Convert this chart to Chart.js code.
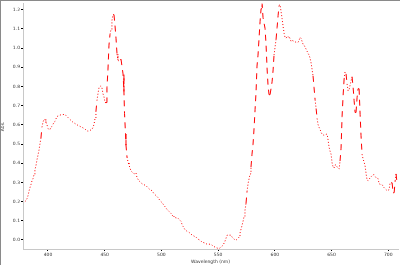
<!DOCTYPE html>
<html>
<head>
<meta charset="utf-8">
<script src="https://cdn.jsdelivr.net/npm/chart.js@4/dist/chart.umd.min.js"></script>
<style>
  body { margin: 0; background: #fff; }
  canvas { display: block; }
</style>
</head>
<body>
<canvas id="myChart" width="400" height="265"></canvas>
<script>
// spectrum data

const wavelength = [
  379.7, 380.6, 381.5, 382.4, 383.2, 384.1, 385.0, 385.9, 386.8, 387.7,
  388.5, 389.4, 390.3, 391.2, 392.1, 392.9, 393.8, 394.7, 395.6, 396.5,
  397.4, 398.2, 399.1, 400.0, 400.9, 401.8, 402.6, 403.5, 404.4, 405.3,
  406.2, 407.9, 410.6, 414.1, 415.9, 418.5, 420.3, 422.1, 423.8, 426.5,
  428.2, 430.0, 431.8, 435.3, 438.8, 439.7, 440.6, 441.5, 442.3, 443.2,
  444.1, 445.0, 446.7, 447.6, 448.5, 449.4, 450.3, 451.2, 452.0, 452.9,
  453.8, 454.7, 455.6, 456.4, 457.3, 458.2, 459.1, 460.0, 460.9, 461.7,
  462.6, 464.4, 466.2, 467.0, 467.5, 468.4, 468.8, 469.7, 470.6, 471.4,
  472.3, 473.2, 475.9, 477.6, 478.5, 480.3, 482.9, 486.4, 488.2, 490.0,
  491.7, 493.5, 495.3, 497.0, 498.8, 500.5, 505.0, 506.7, 508.5, 510.3,
  511.1, 514.7, 517.3, 518.2, 519.1, 520.8, 522.6, 524.4, 526.1, 528.8,
  530.5, 532.3, 534.1, 535.8, 538.5, 540.2, 542.0, 543.8, 545.5, 547.3,
  549.1, 550.8, 552.6, 554.4, 556.1, 557.0, 557.9, 561.4, 562.3, 564.1,
  565.8, 567.6, 568.5, 569.3, 570.2, 571.1, 572.0, 572.9, 573.7, 574.6,
  575.5, 576.4, 577.3, 578.2, 579.0, 579.9, 580.8, 581.7, 582.6, 583.5,
  584.3, 585.2, 586.1, 587.0, 587.9, 588.7, 589.6, 591.4, 592.3, 593.2,
  594.0, 594.9, 595.8, 597.6, 598.5, 599.3, 600.2, 601.1, 602.0, 602.9,
  603.7, 604.6, 605.5, 606.4, 607.3, 608.2, 609.0, 609.9, 610.8, 611.7,
  612.6, 614.3, 615.2, 617.0, 618.7, 620.5, 621.4, 622.3, 623.1, 624.0,
  624.9, 625.8, 626.7, 627.6, 628.4, 629.3, 630.2, 631.1, 632.0, 632.8,
  633.7, 634.6, 635.5, 636.4, 637.3, 638.1, 639.0, 639.9, 640.8, 641.7,
  643.4, 645.2, 646.1, 647.0, 647.8, 648.7, 649.6, 650.5, 651.4, 652.2,
  653.1, 654.0, 654.9, 656.7, 657.5, 658.4, 659.3, 660.2, 661.1, 661.9,
  662.8, 663.7, 664.6, 665.5, 666.4, 668.1, 669.0, 669.9, 670.8, 671.6,
  672.5, 673.4, 674.3, 675.2, 676.0, 676.9, 677.8, 678.7, 679.6, 680.5,
  681.3, 682.2, 684.0, 686.6, 687.5, 689.3, 691.1, 691.9, 693.7, 694.6,
  696.4, 697.2, 699.0, 700.8, 701.6, 703.4, 704.3, 705.2, 706.1, 706.9,
  707.8
];

const absorbance = [
  0.200, 0.205, 0.215, 0.231, 0.252, 0.272, 0.288, 0.308, 0.319, 0.340,
  0.366, 0.386, 0.417, 0.442, 0.468, 0.499, 0.530, 0.587, 0.613, 0.628,
  0.628, 0.613, 0.602, 0.581, 0.576, 0.576, 0.587, 0.592, 0.602, 0.613,
  0.618, 0.643, 0.651, 0.654, 0.649, 0.633, 0.623, 0.613, 0.607, 0.597,
  0.592, 0.587, 0.581, 0.566, 0.576, 0.587, 0.602, 0.633, 0.669, 0.726,
  0.762, 0.793, 0.803, 0.793, 0.762, 0.746, 0.716, 0.716, 0.793, 0.886,
  1.015, 1.071, 1.097, 1.143, 1.174, 1.174, 1.118, 1.051, 0.968, 0.937,
  0.932, 0.942, 0.865, 0.772, 0.659, 0.551, 0.494, 0.432, 0.406, 0.391,
  0.375, 0.360, 0.344, 0.350, 0.324, 0.308, 0.293, 0.283, 0.272, 0.262,
  0.257, 0.241, 0.231, 0.221, 0.205, 0.195, 0.159, 0.149, 0.138, 0.123,
  0.118, 0.113, 0.097, 0.081, 0.071, 0.054, 0.045, 0.040, 0.030, 0.020,
  0.015, 0.004, -0.001, -0.011, -0.016, -0.022, -0.022, -0.022, -0.032, -0.037,
  -0.042, -0.045, -0.037, -0.027, -0.006, 0.009, 0.025, 0.025, 0.015, 0.004,
  -0.001, 0.009, 0.015, 0.035, 0.056, 0.076, 0.097, 0.123, 0.154, 0.190,
  0.252, 0.293, 0.319, 0.344, 0.380, 0.447, 0.499, 0.581, 0.679, 0.777,
  0.906, 0.963, 1.051, 1.138, 1.205, 1.240, 1.159, 1.102, 1.015, 0.891,
  0.808, 0.757, 0.757, 0.824, 0.886, 0.963, 1.004, 1.045, 1.107, 1.169,
  1.221, 1.226, 1.190, 1.154, 1.113, 1.077, 1.056, 1.051, 1.061, 1.056,
  1.061, 1.035, 1.040, 1.035, 1.030, 1.030, 1.040, 1.056, 1.051, 1.035,
  1.020, 1.015, 1.004, 0.994, 0.984, 0.973, 0.963, 0.947, 0.922, 0.891,
  0.855, 0.793, 0.731, 0.685, 0.633, 0.602, 0.587, 0.576, 0.561, 0.551,
  0.545, 0.551, 0.551, 0.520, 0.484, 0.463, 0.447, 0.401, 0.380, 0.375,
  0.391, 0.391, 0.380, 0.370, 0.411, 0.478, 0.643, 0.752, 0.839, 0.875,
  0.865, 0.813, 0.777, 0.783, 0.808, 0.850, 0.798, 0.726, 0.664, 0.664,
  0.741, 0.788, 0.788, 0.654, 0.545, 0.447, 0.422, 0.406, 0.386, 0.344,
  0.313, 0.308, 0.324, 0.340, 0.340, 0.324, 0.319, 0.293, 0.288, 0.288,
  0.272, 0.267, 0.257, 0.262, 0.298, 0.298, 0.246, 0.246, 0.308, 0.344,
  0.293
];

const xTicks = [400, 450, 500, 550, 600, 650, 700];
const yTicks = [0.0, 0.1, 0.2, 0.3, 0.4, 0.5, 0.6, 0.7, 0.8, 0.9, 1.0, 1.1, 1.2];

const points = wavelength.map((w, i) => ({ x: w, y: absorbance[i] }));

// thin grey frame along the top and left edge of the picture
const framePlugin = {
  id: 'frame',
  afterDraw(chart) {
    const ctx = chart.ctx;
    ctx.save();
    ctx.fillStyle = '#8a8a8a';
    ctx.fillRect(0, 0, chart.width, 1);
    ctx.fillRect(0, 0, 1, chart.height);
    ctx.restore();
  }
};

const tickFont = { family: 'DejaVu Sans', size: 4.5 };

const config = {
  type: 'scatter',
  data: {
    datasets: [{
      data: points,
      showLine: true,
      borderColor: 'rgb(255, 0, 0)',
      backgroundColor: 'rgb(255, 0, 0)',
      borderWidth: 1,
      pointRadius: 0,
      segment: {
        // steep parts look like long dashes, flat parts like dots
        borderDash: ctx => Math.abs(ctx.p1.y - ctx.p0.y) > 9 ? [6, 5] : [1, 2]
      }
    }]
  },
  options: {
    responsive: false,
    animation: false,
    layout: { padding: { top: 1, right: 2, left: 0, bottom: 0 } },
    plugins: {
      legend: { display: false },
      tooltip: { enabled: false }
    },
    scales: {
      x: {
        type: 'linear',
        min: 378,
        max: 708.6,
        afterBuildTicks: scale => { scale.ticks = xTicks.map(v => ({ value: v })); },
        afterFit: scale => { scale.height = 16; },
        grid: { drawOnChartArea: false, tickLength: 2, color: '#000' },
        border: { color: '#c8c8c8' },
        ticks: { font: tickFont, color: '#333', padding: 1, maxRotation: 0 },
        title: { display: true, text: 'Wavelength (nm)', font: tickFont, color: '#333', padding: 0 }
      },
      y: {
        min: -0.047,
        max: 1.231,
        afterBuildTicks: scale => { scale.ticks = yTicks.map(v => ({ value: v })); },
        afterFit: scale => { scale.width = 23; },
        grid: { drawOnChartArea: false, tickLength: 2, color: '#000' },
        border: { color: '#c8c8c8' },
        ticks: { font: tickFont, color: '#333', padding: 1, callback: v => v.toFixed(1) },
        title: { display: true, text: 'Abs.', font: tickFont, color: '#333', padding: 0 }
      }
    }
  },
  plugins: [framePlugin]
};

var myChart = new Chart(document.getElementById('myChart'), config);
</script>
</body>
</html>
